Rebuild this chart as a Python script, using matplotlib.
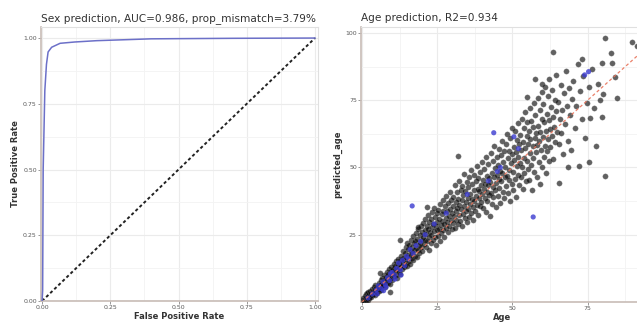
import matplotlib
matplotlib.use("Agg")
import matplotlib.pyplot as plt
import numpy as np
from matplotlib.ticker import MultipleLocator

# ROC curve (sex prediction)
fpr = [0, 0.002, 0.004, 0.01, 0.016, 0.022, 0.035, 0.066, 0.12, 0.2, 0.4, 0.7, 1.0]
tpr = [0, 0.04, 0.5, 0.8, 0.9, 0.947, 0.965, 0.98, 0.985, 0.99, 0.997, 0.999, 1.0]
roc_ticks = [0.0, 0.25, 0.5, 0.75, 1.0]
roc_ticklabels = ["0.00", "0.25", "0.50", "0.75", "1.00"]

# age prediction scatter, (age, predicted_age) pairs
pts_black = [
    (0.3,0.8),(0.5,1.5),(0.7,0.4),(0.9,2.1),(1.0,1.2),(1.2,2.8),(1.3,0.9),(1.5,1.9),(1.6,3.2),(1.8,1.4),(1.9,2.5),(2.0,0.7),(2.1,3.6),(2.2,2.0),(2.4,1.5),(2.4,3.0),
    (2.6,2.4),(2.8,4.1),(3.0,2.0),(3.1,3.3),(3.3,5.0),(3.4,2.7),(3.6,4.2),(3.8,3.0),(3.9,5.6),(4.1,3.8),(4.2,2.5),(4.4,4.9),(4.5,6.3),(4.7,3.6),(4.8,5.2),(4.9,4.4),
    (5.1,3.3),(5.2,6.0),(5.4,5.0),(5.6,7.2),(5.7,4.1),(5.9,6.4),(6.0,5.3),(6.2,8.0),(6.3,4.6),(6.5,6.8),(6.6,9.1),(6.8,5.8),(6.9,7.6),(7.1,6.2),(7.2,10.0),(7.4,8.3),
    (7.6,5.6),(7.8,7.9),(7.9,9.4),(8.1,6.9),(8.2,11.0),(8.4,8.6),(8.6,7.2),(8.7,10.3),(8.9,12.2),(9.0,8.0),(9.2,9.7),(9.3,6.8),(9.5,11.6),(9.7,9.0),(9.8,13.0),(9.9,10.4),
    (9.4,3.7),(6.0,10.8),(12.7,23.0),
    (10.1,8.2),(10.3,12.4),(10.4,10.9),(10.6,14.0),(10.8,9.6),(10.9,11.8),(11.1,13.3),(11.2,10.1),(11.4,15.2),(11.6,12.0),(11.7,9.0),(11.9,13.9),(12.0,16.0),(12.2,11.3),(12.3,14.6),(12.4,12.8),
    (12.6,10.4),(12.8,15.6),(12.9,13.5),(13.1,17.2),(13.2,12.1),(13.4,14.8),(13.6,19.0),(13.7,16.2),(13.9,12.9),(14.0,15.5),(14.2,18.1),(14.3,13.8),(14.5,20.3),(14.7,16.9),(14.8,14.6),(14.9,22.0),
    (15.1,13.2),(15.2,17.5),(15.4,19.6),(15.6,15.4),(15.7,21.2),(15.9,17.0),(16.0,14.3),(16.2,19.0),(16.3,23.0),(16.5,16.4),(16.7,20.5),(16.8,18.1),(17.0,24.4),(17.1,15.6),(17.3,21.8),(17.4,19.3),
    (17.6,17.0),(17.8,22.6),(17.9,20.2),(18.1,25.5),(18.2,16.6),(18.4,23.4),(18.6,19.5),(18.7,27.0),(18.9,21.3),(19.0,18.2),(19.2,24.8),(19.3,22.0),(19.5,28.4),(19.7,20.4),(19.8,25.9),(19.9,23.1),
    (20.1,19.0),(20.3,24.0),(20.4,29.5),(20.6,21.6),(20.8,26.8),(20.9,23.2),(21.1,31.0),(21.2,20.3),(21.4,25.4),(21.6,28.2),(21.7,22.5),(21.9,27.1),(22.0,32.5),(22.2,24.3),(22.3,19.4),(22.4,29.6),
    (22.6,26.0),(22.8,21.8),(22.9,30.8),(23.1,25.0),(23.2,33.4),(23.4,27.8),(23.6,22.9),(23.7,29.0),(23.9,26.3),(24.0,35.0),(24.2,24.0),(24.3,31.5),(24.5,28.2),(24.7,21.0),(24.8,33.0),(24.9,26.9),
    (21.7,35.3),(18.7,27.9),
    (25.1,29.6),(25.2,24.5),(25.4,34.2),(25.6,27.3),(25.7,31.0),(25.9,22.8),(26.0,36.5),(26.2,28.8),(26.3,25.6),(26.5,32.6),(26.7,30.0),(26.8,38.0),(27.0,26.6),(27.1,33.8),(27.3,29.1),(27.4,24.0),
    (27.6,35.6),(27.8,31.2),(27.9,27.4),(28.1,39.3),(28.2,29.8),(28.4,33.9),(28.6,25.9),(28.7,36.8),(28.9,31.9),(29.0,28.3),(29.2,41.0),(29.3,34.5),(29.5,30.3),(29.7,37.9),(29.8,27.0),(29.9,33.0),
    (30.1,39.0),(30.3,29.5),(30.4,35.5),(30.6,32.0),(30.8,43.5),(30.9,27.6),(31.1,37.3),(31.2,33.8),(31.4,30.4),(31.6,40.8),(31.7,35.0),(31.9,28.9),(32.0,38.4),(32.2,45.0),(32.3,32.4),(32.4,36.2),
    (32.6,30.0),(32.8,41.6),(32.9,34.5),(33.1,37.9),(33.2,28.4),(33.4,43.0),(33.6,32.8),(33.7,39.6),(33.9,35.7),(34.0,47.5),(34.2,31.1),(34.3,41.2),(34.5,37.0),(34.7,33.9),(34.8,44.6),(34.9,29.6),
    (35.1,38.8),(35.2,34.6),(35.4,42.7),(35.6,31.5),(35.7,46.3),(35.9,36.4),(36.0,40.0),(36.2,33.0),(36.3,49.0),(36.5,38.1),(36.7,43.9),(36.8,35.2),(37.0,30.3),(37.1,41.5),(37.3,37.6),(37.4,47.2),
    (37.6,34.0),(37.8,44.8),(37.9,39.4),(38.1,36.1),(38.2,50.6),(38.4,42.0),(38.6,32.5),(38.7,46.0),(38.9,38.6),(39.0,41.2),(39.2,35.5),(39.3,48.3),(39.5,43.4),(39.7,37.0),(39.8,52.0),(39.9,40.3),
    (31.8,54.3),
    (40.1,45.5),(40.3,35.0),(40.4,42.1),(40.6,49.5),(40.8,38.5),(40.9,44.0),(41.1,33.6),(41.2,54.0),(41.4,41.0),(41.6,47.0),(41.7,37.4),(41.9,43.5),(42.0,51.2),(42.2,39.8),(42.3,46.2),(42.4,31.8),
    (42.6,44.7),(42.8,40.4),(42.9,55.5),(43.1,48.0),(43.2,36.6),(43.4,42.8),(43.6,52.5),(43.7,38.9),(43.9,46.6),(44.0,58.0),(44.2,41.6),(44.3,49.9),(44.5,35.2),(44.7,44.1),(44.8,53.8),(44.9,47.3),
    (45.1,39.5),(45.2,50.8),(45.4,45.6),(45.6,57.0),(45.7,42.4),(45.9,48.7),(46.0,36.8),(46.2,54.6),(46.3,44.9),(46.5,60.0),(46.7,47.8),(46.8,41.0),(47.0,52.0),(47.1,56.3),(47.3,38.6),(47.4,46.4),
    (47.6,50.0),(47.8,43.2),(47.9,58.8),(48.1,47.0),(48.2,62.5),(48.4,40.4),(48.6,53.6),(48.7,45.5),(48.9,56.0),(49.0,49.2),(49.2,37.6),(49.3,60.8),(49.5,51.5),(49.7,44.0),(49.8,55.0),(49.9,64.8),
    (50.1,48.4),(50.3,41.8),(50.4,57.6),(50.6,52.8),(50.8,63.4),(50.9,45.8),(51.1,55.6),(51.2,39.0),(51.4,60.2),(51.6,50.4),(51.7,66.5),(51.9,47.2),(52.0,54.0),(52.2,43.5),(52.3,58.9),(52.4,51.8),
    (52.6,62.0),(52.8,46.6),(52.9,56.5),(53.1,68.0),(53.2,50.0),(53.4,42.0),(53.6,59.5),(53.7,53.6),(53.9,64.5),(54.0,48.0),(54.2,57.2),(54.3,70.5),(54.5,44.8),(54.7,61.8),(54.8,52.4),(54.9,66.8),
    (55.1,49.6),(55.2,58.8),(55.4,63.6),(55.6,45.4),(55.7,55.2),(55.9,72.0),(56.0,60.6),(56.2,51.0),(56.3,67.4),(56.5,41.5),(56.7,57.8),(56.8,64.9),(57.0,53.4),(57.1,74.0),(57.3,48.2),(57.4,61.0),
    (57.6,69.5),(57.8,55.8),(57.9,62.8),(58.1,46.5),(58.2,58.4),(58.4,75.8),(58.6,65.5),(58.7,52.0),(58.9,60.0),(59.0,71.2),(59.2,44.0),(59.3,63.0),(59.5,56.6),(59.7,68.0),(59.8,78.0),(59.9,50.2),
    (60.1,61.5),(60.3,73.4),(60.4,54.0),(60.6,66.8),(60.8,58.0),(60.9,80.0),(61.1,47.8),(61.2,63.5),(61.4,70.0),(61.6,56.2),(61.7,76.5),(61.9,60.5),(62.0,52.5),(62.2,67.6),(62.3,83.0),(62.4,64.2),
    (62.6,57.5),(62.8,72.5),(63.0,61.8),(63.2,78.8),(63.4,53.0),(63.6,68.8),(63.8,65.0),(64.0,75.0),(64.2,59.4),(64.4,70.8),(64.6,84.5),(64.8,63.2),
    (65.1,74.2),(65.4,58.6),(65.7,68.0),(66.0,80.6),(66.3,62.8),(66.6,71.5),(66.9,55.0),(67.2,77.5),
    (67.6,66.0),(67.9,86.0),(68.2,72.8),(68.5,60.0),(68.8,79.5),(69.1,69.4),(69.4,56.6),(69.7,75.6),
    (70.2,82.0),(70.7,64.5),(71.2,73.0),(71.7,88.5),(72.2,50.5),(72.6,78.4),(73.1,68.0),(73.6,84.0),(74.2,61.0),(74.7,74.0),
    (75.3,79.8),(75.9,68.5),(76.5,86.5),(77.2,72.0),(77.8,58.0),(78.4,81.0),(79.0,75.0),(79.6,89.0),
    (80.7,98.2),(63.6,93.0),(89.7,96.7),(91.4,95.2),(57.6,83.0),(59.9,81.1),(54.9,76.3),(73.0,90.4),
    (82.7,92.6),(83.0,88.9),(84.0,83.7),(84.7,75.9),(80.0,77.4),(79.7,68.8),(80.7,46.9),(65.6,44.3),
    (68.6,50.2),(75.6,52.1),
]
pts_blue = [
    (2.0,1.5),(3.5,3.0),(4.8,4.5),(5.5,6.0),(6.3,5.0),(7.0,7.5),(7.8,6.4),(8.5,9.0),(9.2,8.0),(10.0,11.0),
    (10.8,10.0),(11.5,12.5),(12.2,14.5),(12.8,12.0),(13.5,15.5),(14.2,13.5),(14.8,17.0),(15.5,16.0),(16.0,19.5),
    (17.0,18.0),(18.0,21.0),(19.5,22.5),(21.0,25.0),(24.0,29.0),(28.0,33.0),(35.0,40.0),(42.0,45.0),(46.0,50.0),
    (16.7,35.7),(56.9,31.6),(43.8,62.9),(50.5,61.4),(75.3,85.6),(74.0,84.4),(52.0,57.0),(45.0,48.5),
    (5.0,3.0),(8.0,5.5),(11.0,8.5),(9.5,10.5),(7.2,4.2),(13.0,10.0),
]
age_xticks = [0, 25, 50, 75]
age_yticks = [25, 50, 75, 100]

age_black = [p[0] for p in pts_black]
pred_black = [p[1] for p in pts_black]
age_blue = [p[0] for p in pts_blue]
pred_blue = [p[1] for p in pts_blue]

W, H = 637, 323
fig = plt.figure(figsize=(W / 100, H / 100), dpi=100)
fig.patch.set_facecolor("white")

grid_c = "#ebebeb"
axis_c = "#c8bcb6"
tick_c = "#5a5a5a"


def style(ax):
    ax.set_facecolor("white")
    for s in ["top", "right"]:
        ax.spines[s].set_color("#e0e0e0")
        ax.spines[s].set_linewidth(0.8)
    for s in ["left", "bottom"]:
        ax.spines[s].set_color(axis_c)
        ax.spines[s].set_linewidth(1.2)
    ax.grid(True, which="major", color=grid_c, lw=0.8)
    ax.grid(True, which="minor", color="#f3f3f3", lw=0.6)
    ax.set_axisbelow(True)
    ax.tick_params(which="major", length=2, width=0.6, color="#888888",
                   labelsize=4.5, labelcolor=tick_c, pad=1)
    ax.tick_params(which="minor", length=0)


# left panel: ROC
ax1 = fig.add_axes([41 / W, 1 - 301 / H, (318 - 41) / W, (301 - 27) / H])
style(ax1)
ax1.plot([0, 1], [0, 1], color="#222222", lw=1.4, ls=(0, (1.6, 1.3)), zorder=2)
ax1.plot(fpr, tpr, color="#6c70c8", lw=1.1, zorder=3)
ax1.set_xlim(-0.004, 1.011)
ax1.set_ylim(0, 1.042)
ax1.set_xticks(roc_ticks)
ax1.set_xticklabels(roc_ticklabels)
ax1.set_yticks(roc_ticks)
ax1.set_yticklabels(roc_ticklabels)
ax1.xaxis.set_minor_locator(MultipleLocator(0.125))
ax1.yaxis.set_minor_locator(MultipleLocator(0.125))
ax1.set_xlabel("False Positive Rate", fontsize=6, fontweight="bold", color="#333333", labelpad=1)
ax1.set_ylabel("True Positive Rate", fontsize=6, fontweight="bold", color="#333333", labelpad=2)
ax1.set_title("Sex prediction, AUC=0.986, prop_mismatch=3.79%", fontsize=7.6,
              color="#333333", loc="left", pad=4)

# right panel: age scatter
ax2 = fig.add_axes([361 / W, 1 - 302 / H, (W - 361) / W + 0.01, (302 - 27) / H])
style(ax2)
ax2.spines["right"].set_visible(False)
ax2.plot([0, 100], [0, 100], color="#e8735a", lw=0.9, ls=(0, (2.5, 2)), alpha=0.9, zorder=4)
ax2.scatter(age_black, pred_black, s=15, color="black", alpha=0.62, edgecolors="#777777",
            linewidths=0.3, zorder=3)
ax2.scatter(age_blue, pred_blue, s=14, color="#3b3bd0", alpha=0.8, edgecolors="none", zorder=3)
ax2.set_xlim(-0.3, 93.5)
ax2.set_ylim(0, 102.2)
ax2.set_xticks(age_xticks)
ax2.set_yticks(age_yticks)
ax2.xaxis.set_minor_locator(MultipleLocator(12.5))
ax2.yaxis.set_minor_locator(MultipleLocator(12.5))
ax2.set_xlabel("Age", fontsize=6, fontweight="bold", color="#333333", labelpad=1)
ax2.set_ylabel("predicted_age", fontsize=6, fontweight="bold", color="#333333", labelpad=2)
ax2.set_title("Age prediction, R2=0.934", fontsize=7.6, color="#333333", loc="left", pad=4)

fig.savefig("out.png", dpi=100, facecolor="white")
